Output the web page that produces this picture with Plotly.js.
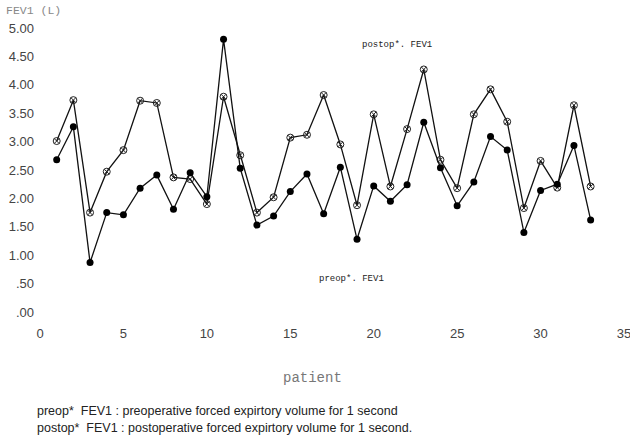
<!DOCTYPE html>
<html>
<head>
<meta charset="utf-8">
<script src="https://cdn.plot.ly/plotly-3.0.1.min.js"></script>
<style>html,body{margin:0;padding:0;background:#fff}#chart{width:630px;height:438px}</style>
</head>
<body>
<div id="chart"></div>
<script>
const patients = [1,2,3,4,5,6,7,8,9,10,11,12,13,14,15,16,17,18,19,20,21,22,23,24,25,26,27,28,29,30,31,32,33];
const preopFEV1 = [2.68,3.26,0.87,1.75,1.71,2.18,2.41,1.81,2.45,2.03,4.80,2.53,1.53,1.69,2.12,2.43,1.73,2.55,1.28,2.22,1.95,2.24,3.34,2.54,1.87,2.29,3.09,2.85,1.40,2.14,2.25,2.93,1.62];
const postopFEV1 = [3.01,3.73,1.75,2.47,2.85,3.72,3.68,2.37,2.34,1.90,3.79,2.76,1.75,2.02,3.07,3.12,3.82,2.95,1.88,3.48,2.21,3.22,4.27,2.68,2.18,3.48,3.92,3.35,1.83,2.66,2.19,3.64,2.21];
const yTickVals = [0,0.5,1,1.5,2,2.5,3,3.5,4,4.5,5];
const yTickText = [".00",".50","1.00","1.50","2.00","2.50","3.00","3.50","4.00","4.50","5.00"];
const xTickVals = [0,5,10,15,20,25,30,35];

const traces = [
  {x: patients, y: postopFEV1, mode: 'lines+markers', name: 'postop* FEV1',
   line: {color: '#111', width: 1.3},
   marker: {symbol: 'circle-x-open', size: 7, color: '#222', line: {width: 1}}},
  {x: patients, y: preopFEV1, mode: 'lines+markers', name: 'preop* FEV1',
   line: {color: '#111', width: 1.3},
   marker: {symbol: 'circle', size: 7, color: '#000'}}
];

const mono = 'Liberation Mono, DejaVu Sans Mono, monospace';
const sans = 'Liberation Sans, Arial, sans-serif';

const layout = {
  width: 630, height: 438,
  margin: {l: 40, r: 6, t: 28, b: 126},
  paper_bgcolor: '#fff', plot_bgcolor: '#fff',
  showlegend: false,
  xaxis: {range: [0, 35], tickvals: xTickVals, showgrid: false, zeroline: false, showline: false,
          ticks: '', ticklabelstandoff: 12, ticklabeloverflow: 'allow',
          tickfont: {family: sans, size: 13, color: '#444'}},
  yaxis: {range: [0, 5], tickvals: yTickVals, ticktext: yTickText, showgrid: false, zeroline: false,
          showline: false, ticks: '', ticklabelstandoff: 5, ticklabeloverflow: 'allow',
          tickfont: {family: sans, size: 13, color: '#444'}},
  annotations: [
    {text: 'FEV1 (L)', xref: 'paper', yref: 'paper', x: -0.062, y: 1.063, xanchor: 'left', yanchor: 'middle',
     showarrow: false, font: {family: mono, size: 11.5, color: '#888'}},
    {text: 'postop*. FEV1', xref: 'x', yref: 'y', x: 19.2, y: 4.70, xanchor: 'left', yanchor: 'middle',
     showarrow: false, font: {family: mono, size: 9, color: '#222'}},
    {text: 'preop*. FEV1', xref: 'x', yref: 'y', x: 16.6, y: 0.58, xanchor: 'left', yanchor: 'middle',
     showarrow: false, font: {family: mono, size: 9, color: '#222'}},
    {text: 'patient', xref: 'paper', yref: 'paper', x: 0.466, y: -0.232, xanchor: 'center', yanchor: 'middle',
     showarrow: false, font: {family: mono, size: 14, color: '#777'}},
    {text: 'preop*  FEV1 : preoperative forced expirtory volume for 1 second', xref: 'paper', yref: 'paper',
     x: -0.009, y: -0.349, xanchor: 'left', yanchor: 'middle', showarrow: false,
     font: {family: sans, size: 12.5, color: '#222'}},
    {text: 'postop*  FEV1 : postoperative forced expirtory volume for 1 second.', xref: 'paper', yref: 'paper',
     x: -0.009, y: -0.408, xanchor: 'left', yanchor: 'middle', showarrow: false,
     font: {family: sans, size: 12.5, color: '#222'}}
  ]
};

Plotly.newPlot('chart', traces, layout, {displayModeBar: false, staticPlot: true});
</script>
</body>
</html>
